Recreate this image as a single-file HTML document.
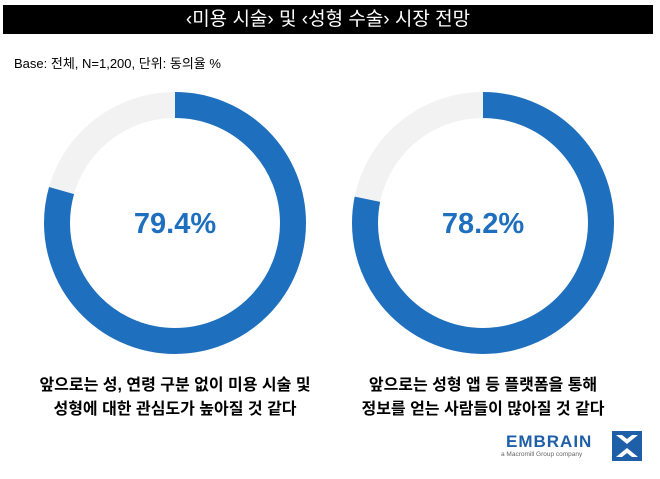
<!DOCTYPE html>
<html><head><meta charset="utf-8"><style>
body{margin:0;width:660px;height:479px;background:#fff;position:relative;overflow:hidden;font-family:"Liberation Sans","Noto Sans CJK KR",sans-serif}
.t{position:absolute;left:3px;top:5px;width:650px;height:29px;background:#000;color:#fff;font-size:19px;text-align:center;line-height:29px}
.b{position:absolute;left:14px;top:53px;font-size:13px;color:#000}
.c{position:absolute;width:320px;text-align:center;font-size:16px;font-weight:bold;line-height:24px;color:#000}
</style></head><body>
<div class="t">‹미용 시술› 및 ‹성형 수술› 시장 전망</div>
<div class="b">Base: 전체, N=1,200, 단위: 동의율 %</div>
<svg width="660" height="479" style="position:absolute;left:0;top:0">
<g fill="none" stroke-width="26">
<circle cx="175" cy="223" r="118" stroke="#f2f2f2"/>
<circle cx="175" cy="223" r="118" stroke="#1f6fbf" stroke-dasharray="588.7 1000" transform="rotate(-90 175 223)"/>
<circle cx="483" cy="223" r="118" stroke="#f2f2f2"/>
<circle cx="483" cy="223" r="118" stroke="#1f6fbf" stroke-dasharray="579.8 1000" transform="rotate(-90 483 223)"/>
</g>
<text x="175" y="233" text-anchor="middle" font-size="29" font-weight="bold" fill="#1f6fbf" font-family="Liberation Sans,sans-serif">79.4%</text>
<text x="483" y="233" text-anchor="middle" font-size="29" font-weight="bold" fill="#1f6fbf" font-family="Liberation Sans,sans-serif">78.2%</text>
<text x="506" y="447" font-size="17" font-weight="bold" fill="#1f5fa8" font-family="Liberation Sans,sans-serif" letter-spacing="1">EMBRAIN</text>
<text x="501" y="456" font-size="6.5" fill="#666" font-family="Liberation Sans,sans-serif">a Macromill Group company</text>
<g transform="translate(612,431)" fill="#1f5fa8">
<rect x="0" y="0" width="30" height="30"/>
<path d="M4 4 L15 13 L26 4 L20 4 L15 8 L10 4Z M4 26 L15 17 L26 26 L20 26 L15 22 L10 26Z" fill="#fff"/>
</g>
</svg>
<div class="c" style="left:15px;top:374px">앞으로는 성, 연령 구분 없이 미용 시술 및<br>성형에 대한 관심도가 높아질 것 같다</div>
<div class="c" style="left:323px;top:374px">앞으로는 성형 앱 등 플랫폼을 통해<br>정보를 얻는 사람들이 많아질 것 같다</div>
</body></html>
